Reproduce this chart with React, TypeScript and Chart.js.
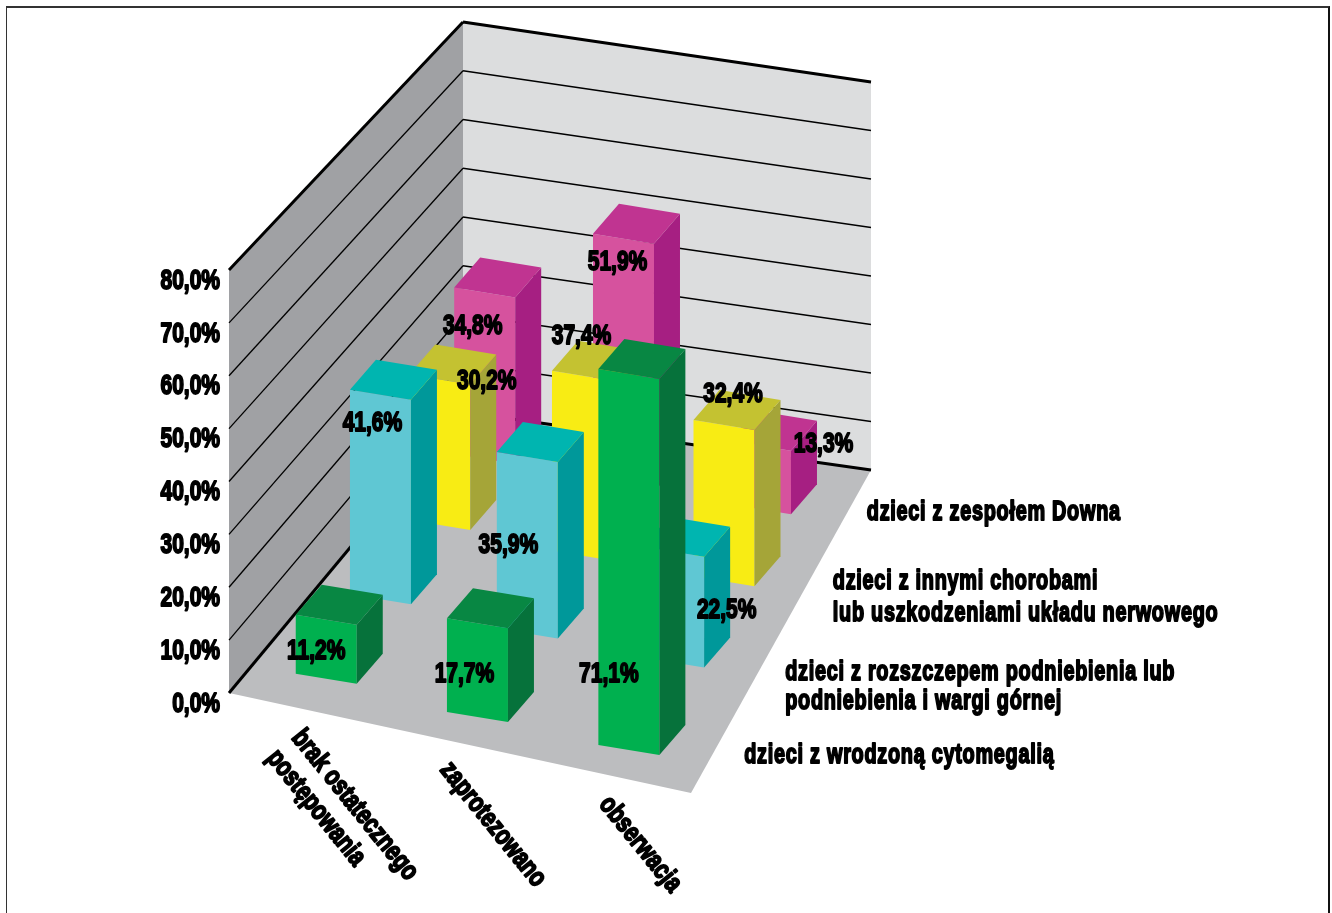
import React, { useEffect, useRef } from "react";
import { Chart, registerables } from "chart.js";

Chart.register(...registerables);

// Outcome categories along the front edge of the floor.
const categories = [["brak ostatecznego", "postępowania"], ["zaprotezowano"], ["obserwacja"]];

// Patient groups, front row first.
const seriesLines = [
  ["dzieci z wrodzoną cytomegalią"],
  ["dzieci z rozszczepem podniebienia lub", "podniebienia i wargi górnej"],
  ["dzieci z innymi chorobami", "lub uszkodzeniami układu nerwowego"],
  ["dzieci z zespołem Downa"],
];

const cytomegaly = [11.2, 17.7, 71.1];
const cleftPalate = [41.6, 35.9, 22.5];
const nervousSystem = [30.2, 37.4, 32.4];
const downSyndrome = [34.8, 51.9, 13.3];
const seriesValues = [cytomegaly, cleftPalate, nervousSystem, downSyndrome];

const axisTicks = [0, 10, 20, 30, 40, 50, 60, 70, 80];

const frontColors = ["#00b04f", "#5fc7d3", "#f8ec14", "#d6529e"];
const topColors = ["#088743", "#00b5b0", "#c4c231", "#c03491"];
const sideColors = ["#06723b", "#00989a", "#a5a538", "#a61f82"];

// Scene layout in page pixels.
const FLOOR = { frontLeft: [229, 693], frontRight: [691, 793], backRight: [871, 470], backLeft: [463, 412] };
const WALL_TOP = { backLeft: [463, 22], backRight: [871, 82] };
const BOX_WIDTH = [61, 10];
const BOX_DEPTH = [26, -30];
const ROW_HEIGHT_FACTOR = [1, 0.93, 0.911, 0.905];
// The bar grid does not sit perfectly evenly on the floor.
const ROW_SHIFT = [[8, 3], [1, 1], [4, -2], [-3, -2]];
const COLUMN_SHIFT = [[-1, -6], [4, 2], [-1, 3]];

// Placement of value captions relative to the top of each bar's front face.
const VALUE_NUDGE = [
  [[-3, 27], [-1, 54], [-13, 304]],
  [[-8, 22], [-14, 89], [53, 60]],
  [[50, -8], [7, -41], [12, -32]],
  [[-16, 24], [-5, 22], [59, -2]],
];
// Placement of the row captions relative to the right floor edge.
const ROW_LABEL_NUDGE = [[27, 10], [19, 14], [22, 4], [15, 8]];
const ROW_LINE_HEIGHT = [0, 29, 32, 0];

// The heavy condensed look comes from squeezing a bold face and fattening its outline.
const FONT = '"Liberation Sans", sans-serif';
const NUMBER_FONT = `bold 28px ${FONT}`;
const CAPTION_FONT = `bold 27px ${FONT}`;
const NUMBER_SQUEEZE = 0.75;
const CAPTION_SQUEEZE = 0.735;
const CATEGORY_SQUEEZE = 0.78;
const HEAVY_STROKE = 1.9;

// Projective map from the unit floor square to the page.
function makeFloorMap() {
  const [x0, y0] = FLOOR.frontLeft;
  const [x1, y1] = FLOOR.frontRight;
  const [x2, y2] = FLOOR.backRight;
  const [x3, y3] = FLOOR.backLeft;
  const dx1 = x1 - x2, dx2 = x3 - x2, sx = x0 - x1 + x2 - x3;
  const dy1 = y1 - y2, dy2 = y3 - y2, sy = y0 - y1 + y2 - y3;
  const det = dx1 * dy2 - dx2 * dy1;
  const p = (sx * dy2 - dx2 * sy) / det;
  const q = (dx1 * sy - sx * dy1) / det;
  const a = x1 - x0 + p * x1, b = x3 - x0 + q * x3;
  const d = y1 - y0 + p * y1, e = y3 - y0 + q * y3;
  return (u: number, w: number) => {
    const den = 1 + p * u + q * w;
    return [(a * u + b * w + x0) / den, (d * u + e * w + y0) / den];
  };
}
const floorAt = makeFloorMap();

function fillPoly(ctx: CanvasRenderingContext2D, pts: number[][], color: string) {
  ctx.beginPath();
  pts.forEach((p, i) => (i ? ctx.lineTo(p[0], p[1]) : ctx.moveTo(p[0], p[1])));
  ctx.closePath();
  ctx.fillStyle = color;
  ctx.fill();
}

function strokeLine(ctx: CanvasRenderingContext2D, a: number[], b: number[], width: number) {
  ctx.beginPath();
  ctx.moveTo(a[0], a[1]);
  ctx.lineTo(b[0], b[1]);
  ctx.lineWidth = width;
  ctx.strokeStyle = "#000";
  ctx.stroke();
}

function heavyText(ctx: CanvasRenderingContext2D, text: string, x: number, y: number, squeeze: number) {
  ctx.save();
  ctx.translate(x, y);
  ctx.scale(squeeze, 1);
  ctx.fillStyle = "#000";
  ctx.strokeStyle = "#000";
  ctx.lineWidth = HEAVY_STROKE;
  ctx.lineJoin = "round";
  ctx.strokeText(text, 0, 0);
  ctx.fillText(text, 0, 0);
  ctx.restore();
}

const lerp = (a: number, b: number, t: number) => a + (b - a) * t;

const scene3d = {
  id: "scene3d",
  // Walls, floor and grid go underneath everything.
  beforeDatasetsDraw(chart: any) {
    const { ctx, scales } = chart;
    const y = scales.y;
    const { frontLeft, frontRight, backRight, backLeft } = FLOOR;
    const frontTop = [frontLeft[0], y.getPixelForValue(80)];
    ctx.save();
    fillPoly(ctx, [WALL_TOP.backLeft, WALL_TOP.backRight, backRight, backLeft], "#dcddde");
    fillPoly(ctx, [frontTop, WALL_TOP.backLeft, backLeft, frontLeft], "#a0a1a4");
    fillPoly(ctx, [frontLeft, frontRight, backRight, backLeft], "#bcbdbf");
    axisTicks.forEach((v) => {
      const t = v / 80;
      const front = [frontLeft[0], y.getPixelForValue(v)];
      const back = [backLeft[0], lerp(backLeft[1], WALL_TOP.backLeft[1], t)];
      const right = [backRight[0], lerp(backRight[1], WALL_TOP.backRight[1], t)];
      const edge = v === 0 || v === 80 ? 3 : 1.3;
      strokeLine(ctx, front, back, edge);
      strokeLine(ctx, back, right, edge);
    });
    ctx.restore();
  },
  // The stock flat bars are replaced by the boxes drawn below.
  beforeDatasetDraw() {
    return false;
  },
  afterDatasetsDraw(chart: any) {
    const { ctx, scales } = chart;
    const { x, y, z } = scales;
    const baseline = y.getPixelForValue(0);
    const frontFaceTop = (i: number, j: number, value: number) => {
      const u = x.getDecimalForPixel(x.getPixelForValue(i));
      const w = z.getDecimalForPixel(z.getPixelForValue(j));
      const c = floorAt(u, w);
      const h = (baseline - y.getPixelForValue(value)) * ROW_HEIGHT_FACTOR[j];
      const fl = [c[0] - (BOX_WIDTH[0] + BOX_DEPTH[0]) / 2, c[1] - (BOX_WIDTH[1] + BOX_DEPTH[1]) / 2];
      return { fl, h };
    };
    ctx.save();
    // Rows are painted back to front, each row left to right.
    for (let j = chart.data.datasets.length - 1; j >= 0; j--) {
      chart.data.datasets[j].data.forEach((value: number, i: number) => {
        const { fl: grid, h } = frontFaceTop(i, j, value);
        const fl = [grid[0] + ROW_SHIFT[j][0] + COLUMN_SHIFT[i][0], grid[1] + ROW_SHIFT[j][1] + COLUMN_SHIFT[i][1]];
        const fr = [fl[0] + BOX_WIDTH[0], fl[1] + BOX_WIDTH[1]];
        const br = [fr[0] + BOX_DEPTH[0], fr[1] + BOX_DEPTH[1]];
        const bl = [fl[0] + BOX_DEPTH[0], fl[1] + BOX_DEPTH[1]];
        const up = (p: number[]) => [p[0], p[1] - h];
        fillPoly(ctx, [fl, fr, up(fr), up(fl)], frontColors[j]);
        fillPoly(ctx, [fr, br, up(br), up(fr)], sideColors[j]);
        fillPoly(ctx, [up(fl), up(fr), up(br), up(bl)], topColors[j]);
      });
    }
    // Value captions sit above every box.
    ctx.font = NUMBER_FONT;
    ctx.textAlign = "center";
    ctx.textBaseline = "middle";
    chart.data.datasets.forEach((ds: any, j: number) => {
      ds.data.forEach((value: number, i: number) => {
        const { fl, h } = frontFaceTop(i, j, value);
        const [nx, ny] = VALUE_NUDGE[j][i];
        const text = value.toFixed(1).replace(".", ",") + "%";
        heavyText(ctx, text, fl[0] + BOX_WIDTH[0] / 2 + nx, fl[1] + BOX_WIDTH[1] / 2 - h + ny + 2, NUMBER_SQUEEZE);
      });
    });
    // Axis numbers, squeezed to the same width as the value captions.
    ctx.textAlign = "right";
    y.ticks.forEach((t: any) => {
      heavyText(ctx, t.label, 220, y.getPixelForValue(t.value) + 11, NUMBER_SQUEEZE);
    });
    // Row captions along the right edge of the floor.
    ctx.font = CAPTION_FONT;
    ctx.textAlign = "left";
    (ctx as any).letterSpacing = "1px";
    seriesLines.forEach((lines, j) => {
      const w = z.getDecimalForPixel(z.getPixelForValue(j));
      const p = floorAt(1, w);
      lines.forEach((line, k) => {
        heavyText(ctx, line, p[0] + ROW_LABEL_NUDGE[j][0], p[1] + ROW_LABEL_NUDGE[j][1] + k * ROW_LINE_HEIGHT[j], CAPTION_SQUEEZE);
      });
    });
    // Category captions run diagonally below the front edge.
    (ctx as any).letterSpacing = "0px";
    chart.data.labels.forEach((lines: string[], i: number) => {
      const u = x.getDecimalForPixel(x.getPixelForValue(i));
      const p = floorAt(u, 0);
      ctx.save();
      ctx.translate(p[0] - 3, p[1] + 25);
      ctx.rotate((51 * Math.PI) / 180);
      lines.forEach((line, k) => heavyText(ctx, line, 0, k * 32, CATEGORY_SQUEEZE));
      ctx.restore();
    });
    ctx.restore();
  },
};

export default function App() {
  const ref = useRef<HTMLCanvasElement>(null);
  useEffect(() => {
    const chart = new Chart(ref.current!, {
      type: "bar",
      data: {
        labels: categories as any,
        datasets: seriesValues.map((data, j) => ({
          label: seriesLines[j].join(" "),
          data,
          backgroundColor: frontColors[j],
        })),
      },
      options: {
        responsive: false,
        animation: false,
        events: [],
        layout: { padding: { left: 169, top: 270, right: 641, bottom: 220 } },
        plugins: { legend: { display: false }, tooltip: { enabled: false } },
        scales: {
          x: { type: "category", display: false, offset: true },
          z: {
            type: "category",
            axis: "x",
            position: "top",
            display: false,
            offset: true,
            labels: seriesLines.map((l) => l.join(" ")),
          },
          y: {
            type: "linear",
            min: 0,
            max: 80,
            afterFit: (s: any) => {
              s.width = 60;
            },
            grid: { display: false, drawTicks: false },
            border: { display: false },
            afterBuildTicks: (s: any) => {
              s.ticks = axisTicks.map((value) => ({ value }));
            },
            ticks: {
              display: false,
              callback: (v: any) => Number(v).toFixed(1).replace(".", ",") + "%",
            },
          },
        },
      } as any,
      plugins: [scene3d as any],
    });
    return () => chart.destroy();
  }, []);
  return (
    <>
      <div
        style={{
          position: "fixed",
          left: 6,
          top: 6,
          width: 1324,
          height: 907,
          boxSizing: "border-box",
          borderTop: "2px solid #333",
          borderLeft: "1px solid #333",
          borderRight: "2px solid #111",
        }}
      />
      <canvas
        ref={ref}
        width={1332}
        height={913}
        style={{ position: "fixed", left: 0, top: 0, display: "block" }}
      />
    </>
  );
}
